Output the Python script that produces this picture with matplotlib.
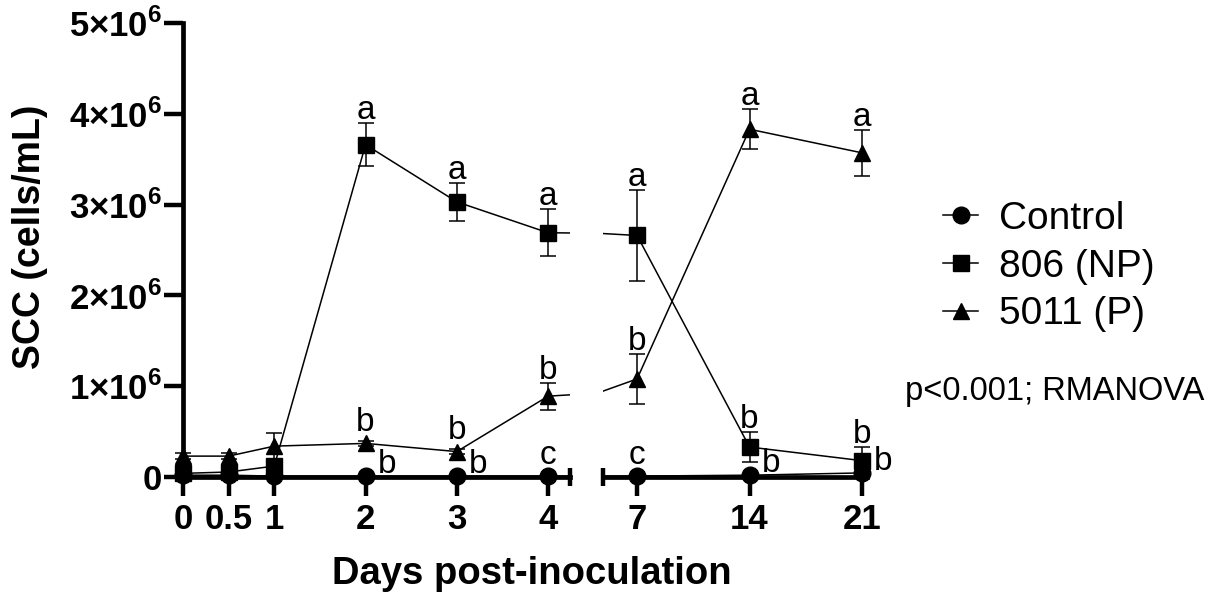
import numpy as np
import matplotlib
matplotlib.use("Agg")
import matplotlib.pyplot as plt
from matplotlib.lines import Line2D
from matplotlib.ticker import FixedLocator, FixedFormatter

plt.rcParams['font.family'] = ['Liberation Sans', 'DejaVu Sans']
plt.rcParams['mathtext.fontset'] = 'custom'
plt.rcParams['mathtext.rm'] = 'Liberation Sans'
plt.rcParams['mathtext.bf'] = 'Liberation Sans:bold'

# ---------------- data ----------------
days = [0, 0.5, 1, 2, 3, 4, 7, 14, 21]
day_labels = ['0', '0.5', '1', '2', '3', '4', '7', '14', '21']

control_mean = [0.02e6, 0.02e6, 0.01e6, 0.01e6, 0.01e6, 0.01e6, 0.01e6, 0.02e6, 0.045e6]
control_err = [0.005e6, 0.005e6, 0.005e6, 0.005e6, 0.005e6, 0.005e6, 0.005e6, 0.005e6, 0.01e6]
np_mean = [0.04e6, 0.055e6, 0.12e6, 3.66e6, 3.03e6, 2.69e6, 2.66e6, 0.33e6, 0.18e6]
np_err = [0.02e6, 0.03e6, 0.07e6, 0.24e6, 0.21e6, 0.26e6, 0.50e6, 0.17e6, 0.15e6]
p_mean = [0.23e6, 0.23e6, 0.34e6, 0.37e6, 0.28e6, 0.89e6, 1.08e6, 3.83e6, 3.57e6]
p_err = [0.03e6, 0.03e6, 0.15e6, 0.03e6, 0.03e6, 0.15e6, 0.28e6, 0.22e6, 0.25e6]

control_letters = ['', '', '', 'b', 'b', 'c', 'c', 'b', 'b']
np_letters = ['', '', '', 'a', 'a', 'a', 'a', 'b', 'b']
p_letters = ['', '', '', 'b', 'b', 'b', 'b', 'a', 'a']

series_names = ['Control', '806 (NP)', '5011 (P)']
y_ticks = [0, 1e6, 2e6, 3e6, 4e6, 5e6]
y_tick_labels = ['0', r'1×10$^{\mathbf{6}}$', r'2×10$^{\mathbf{6}}$', r'3×10$^{\mathbf{6}}$',
                 r'4×10$^{\mathbf{6}}$', r'5×10$^{\mathbf{6}}$']
stat_text = 'p<0.001; RMANOVA'
x_label = 'Days post-inoculation'
y_label = 'SCC (cells/mL)'

# ---------------- layout ----------------
W, H = 1221, 604
fig = plt.figure(figsize=(W / 100, H / 100), dpi=100)

y0_px, y5_px = 477, 23
bot = 1 - y0_px / H
hgt = (y0_px - y5_px) / H
axL = fig.add_axes([183 / W, bot, (570 - 183) / W, hgt])
axR = fig.add_axes([603 / W, bot, (867 - 603) / W, hgt])
axL.set_xlim(0, 4.24)
axR.set_xlim(4.88, 21.31)
for ax in (axL, axR):
    ax.set_ylim(0, 5e6)
    ax.patch.set_alpha(0)
    for s in ('top', 'right'):
        ax.spines[s].set_visible(False)
    ax.spines['bottom'].set_linewidth(3.4)
    ax.spines['left'].set_linewidth(3.4)
    ax.spines['bottom'].set_zorder(2)

axR.spines['left'].set_visible(False)
axR.tick_params(axis='y', left=False, labelleft=False)

# ticks
for ax in (axL, axR):
    lo, hi = ax.get_xlim()
    ax.xaxis.set_major_locator(FixedLocator([d for d in days if lo <= d <= hi]))
    ax.xaxis.set_major_formatter(FixedFormatter([l for d, l in zip(days, day_labels) if lo <= d <= hi]))

axL.yaxis.set_major_locator(FixedLocator(y_ticks))
axL.yaxis.set_major_formatter(FixedFormatter(y_tick_labels))
for ax in (axL, axR):
    ax.tick_params(axis='x', direction='out', length=13.5, width=3.2, pad=5,
                   labelsize=25)
    for lab in ax.get_xticklabels():
        lab.set_fontweight('bold')
axL.tick_params(axis='y', direction='out', length=13.5, width=3.2, pad=1.5, labelsize=25)
for lab in axL.get_yticklabels():
    lab.set_fontweight('bold')

# axis-break end caps
axL.plot([1], [0], transform=axL.transAxes, marker='|', ms=12.5, mew=3.2,
         color='black', clip_on=False, zorder=3)
axR.plot([0], [0], transform=axR.transAxes, marker='|', ms=12.5, mew=3.2,
         color='black', clip_on=False, zorder=3)

# ---------------- series ----------------
series = [
    (control_mean, control_err, 'o', control_letters, 'control'),
    (np_mean, np_err, 's', np_letters, 'np'),
    (p_mean, p_err, '^', p_letters, 'p'),
]
px_per_unit = (y0_px - y5_px) / 5e6  # pixels per data unit
pt_per_px = 0.72

for ax in (axL, axR):
    lo, hi = ax.get_xlim()
    for mean, err, mk, letters, kind in series:
        ax.plot(days, mean, '-', color='black', lw=1.1, zorder=4)
        idx = [i for i, d in enumerate(days) if lo - 1e-9 <= d <= hi + 1e-9]
        xs = [days[i] for i in idx]
        ys = [mean[i] for i in idx]
        es = [err[i] for i in idx]
        eb = ax.errorbar(xs, ys, yerr=es, fmt=mk, ms=12, color='black',
                         ecolor='black', elinewidth=1.1, capsize=6, capthick=1.1,
                         zorder=5)
        eb.lines[0].set_clip_on(False)
        for coll in eb.lines[1]:
            coll.set_clip_on(False)
        for coll in eb.lines[2]:
            coll.set_clip_on(False)
        for i in idx:
            let = letters[i]
            if not let:
                continue
            if kind == 'control' and let == 'b':
                ax.annotate(let, xy=(days[i], mean[i]), xytext=(8.5, 2),
                            textcoords='offset points', ha='left', va='baseline',
                            fontsize=24, annotation_clip=False, zorder=6)
            else:
                off_px = max(err[i] * px_per_unit, 8.5) + 4
                ax.annotate(let, xy=(days[i], mean[i]), xytext=(0, off_px * pt_per_px),
                            textcoords='offset points', ha='center', va='baseline',
                            fontsize=24, annotation_clip=False, zorder=6)

# axis labels
axL.set_ylabel(y_label, fontsize=27, fontweight='bold')
axL.yaxis.set_label_coords((48 - 183) / 387, (477 - 237) / 454)
fig.text(532 / W, 1 - 584 / H, x_label, ha='center', va='baseline',
         fontsize=27.5, fontweight='bold')

# legend
handles = [Line2D([0], [0], color='black', lw=1.1, marker=m, ms=12)
           for m in ('o', 's', '^')]
fig.legend(handles, series_names, loc='upper left', bbox_to_anchor=(943 / W, 1 - 201 / H),
           frameon=False, fontsize=28, handlelength=0.9, handletextpad=0.55,
           labelspacing=0.3, borderpad=0, borderaxespad=0)

fig.text(905 / W, 1 - 400 / H, stat_text, fontsize=23.5, va='baseline', ha='left')

fig.savefig('out.png', dpi=100)
